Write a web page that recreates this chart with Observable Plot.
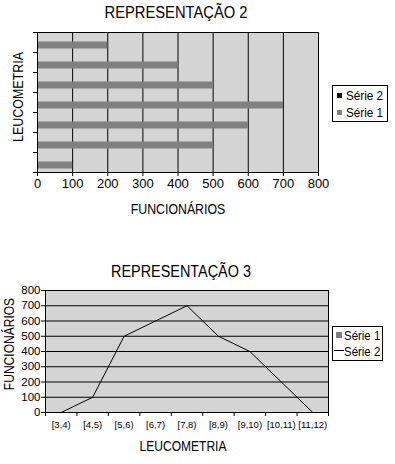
<!DOCTYPE html>
<html><head><meta charset="utf-8">
<script src="https://cdn.jsdelivr.net/npm/d3@7"></script>
<script src="https://cdn.jsdelivr.net/npm/@observablehq/plot@0.6"></script>
<style>
body{margin:0;background:#fff;}
#wrap{position:relative;width:395px;height:464px;font-family:"Liberation Sans",Arial,sans-serif;color:#000;overflow:hidden;}
.abs{position:absolute;white-space:nowrap;line-height:1;}
#wrap svg{position:absolute;left:0;}
.legend{position:absolute;border:1px solid #000;background:#fff;box-sizing:border-box;}
.sw{position:absolute;}
</style></head><body><div id="wrap"></div>
<script>
// ---- data ----
const categories = ["[3,4)","[4,5)","[5,6)","[6,7)","[7,8)","[8,9)","[9,10)","[10,11)","[11,12)"];
const funcionarios = [0,100,500,600,700,500,400,200,0];
const barCategories = ["[4,5)","[5,6)","[6,7)","[7,8)","[8,9)","[9,10)","[10,11)"];
const barValues = [100,500,600,700,500,400,200];
const valueTicks = [0,100,200,300,400,500,600,700,800];
const title2 = "REPRESENTAÇÃO 2";
const title3 = "REPRESENTAÇÃO 3";
const labelX = "FUNCIONÁRIOS";
const labelY = "LEUCOMETRIA";
const legend2 = ["Série 2","Série 1"];
const legend3 = ["Série 1","Série 2"];

const FONT = '"Liberation Sans",Arial,sans-serif';
const wrap = document.getElementById("wrap");
function addText(txt, x, y, size, transform){
  const d = document.createElement("div");
  d.className = "abs";
  d.style.left = x + "px"; d.style.top = y + "px"; d.style.fontSize = size + "px";
  d.style.transform = transform;
  d.textContent = txt; wrap.appendChild(d); return d;
}
const C = "translate(-50%,-50%) ";

// ---- chart 1: horizontal bars ----
const barData = barCategories.map((c,i)=>({cat:c, i, v:barValues[i]}));
const p1 = Plot.plot({
  width:395, height:200, marginLeft:37, marginRight:77, marginTop:32, marginBottom:28,
  style:{fontFamily:FONT, fontSize:"13px", background:"transparent", overflow:"visible", color:"#000"},
  x:{domain:[0,800], label:null},
  y:{domain:[0,barCategories.length], label:null},
  marks:[
    Plot.frame({fill:"#d4d4d4", stroke:null}),
    Plot.gridX(valueTicks, {stroke:"#000", strokeOpacity:1}),
    Plot.rectX(barData, {x1:0, x2:"v", y1:"i", y2:d=>d.i+1, insetTop:9.5, insetBottom:3.5, fill:"#808080"}),
    Plot.frame({stroke:"#000"}),
    Plot.axisX({ticks:valueTicks, tickSize:4, tickPadding:2, label:null, fontSize:13, style:{letterSpacing:"-0.5px"}}),
    Plot.axisY({ticks:d3.range(0, barCategories.length+1), tickFormat:()=>"", tickSize:4, label:null})
  ]
});
p1.style.top = "0px";
wrap.appendChild(p1);
addText(title2, 176, 12.5, 16, C+"scaleX(0.92)");
addText(labelX, 177.5, 208.5, 14, C+"scaleX(0.88)");
addText(labelY, 17.5, 96.7, 14, C+"rotate(-90deg) scaleX(0.89)");

const lg1 = document.createElement("div");
lg1.className = "legend";
Object.assign(lg1.style, {left:"332px", top:"85px", width:"56px", height:"37px"});
wrap.appendChild(lg1);
[["#111",92.5],["#808080",109.5]].forEach(([c,y],k)=>{
  const s = document.createElement("div"); s.className="sw";
  Object.assign(s.style,{left:"336.5px", top:y+"px", width:"5px", height:"5px", background:c});
  wrap.appendChild(s);
  const t = addText(legend2[k], 346, y+2.5, 13, "translateY(-50%) scaleX(0.9)");
  t.style.transformOrigin = "left center";
});

// ---- chart 2: line ----
const lineData = categories.map((c,i)=>({c, i, v:funcionarios[i]}));
const p2 = Plot.plot({
  width:395, height:234, marginLeft:45, marginRight:67, marginTop:60, marginBottom:52,
  style:{fontFamily:FONT, fontSize:"11px", background:"transparent", overflow:"visible", color:"#000"},
  x:{domain:[0,categories.length], label:null},
  y:{domain:[0,800], label:null},
  marks:[
    Plot.frame({fill:"#d4d4d4", stroke:null}),
    Plot.gridY(valueTicks, {stroke:"#000", strokeOpacity:1}),
    Plot.line(lineData, {x:d=>d.i+0.5, y:"v", stroke:"#000", strokeWidth:1}),
    Plot.frame({stroke:"#000"}),
    Plot.axisY({ticks:valueTicks, tickSize:4, tickPadding:1, label:null, fontSize:11.5, style:{letterSpacing:"-0.3px"}}),
    Plot.axisX({ticks:d3.range(0, categories.length+1), tickSize:4, tickFormat:()=>"", label:null}),
    Plot.axisX({ticks:categories.map((c,i)=>i+0.5), tickSize:0, tickPadding:9, tickFormat:t=>categories[Math.floor(t)], label:null, fontSize:9.5, style:{letterSpacing:"-0.45px"}})
  ]
});
p2.style.top = "230px";
wrap.appendChild(p2);
addText(title3, 181, 271.5, 16, C+"scaleX(0.9)");
addText(labelY, 183, 446, 14, C+"scaleX(0.86)");
addText(labelX, 8.5, 344, 14, C+"rotate(-90deg) scaleX(0.86)");

const lg2 = document.createElement("div");
lg2.className = "legend";
Object.assign(lg2.style, {left:"332px", top:"326px", width:"51px", height:"35px"});
wrap.appendChild(lg2);
const s1 = document.createElement("div"); s1.className="sw";
Object.assign(s1.style,{left:"336px", top:"331.5px", width:"6px", height:"6px", background:"#808080"});
wrap.appendChild(s1);
const s2 = document.createElement("div"); s2.className="sw";
Object.assign(s2.style,{left:"334px", top:"350px", width:"10px", height:"1px", background:"#000"});
wrap.appendChild(s2);
[[334.5],[350.5]].forEach(([y],k)=>{
  const t = addText(legend3[k], 344, y, 13, "translateY(-50%) scaleX(0.88)");
  t.style.transformOrigin = "left center";
});
</script></body></html>
